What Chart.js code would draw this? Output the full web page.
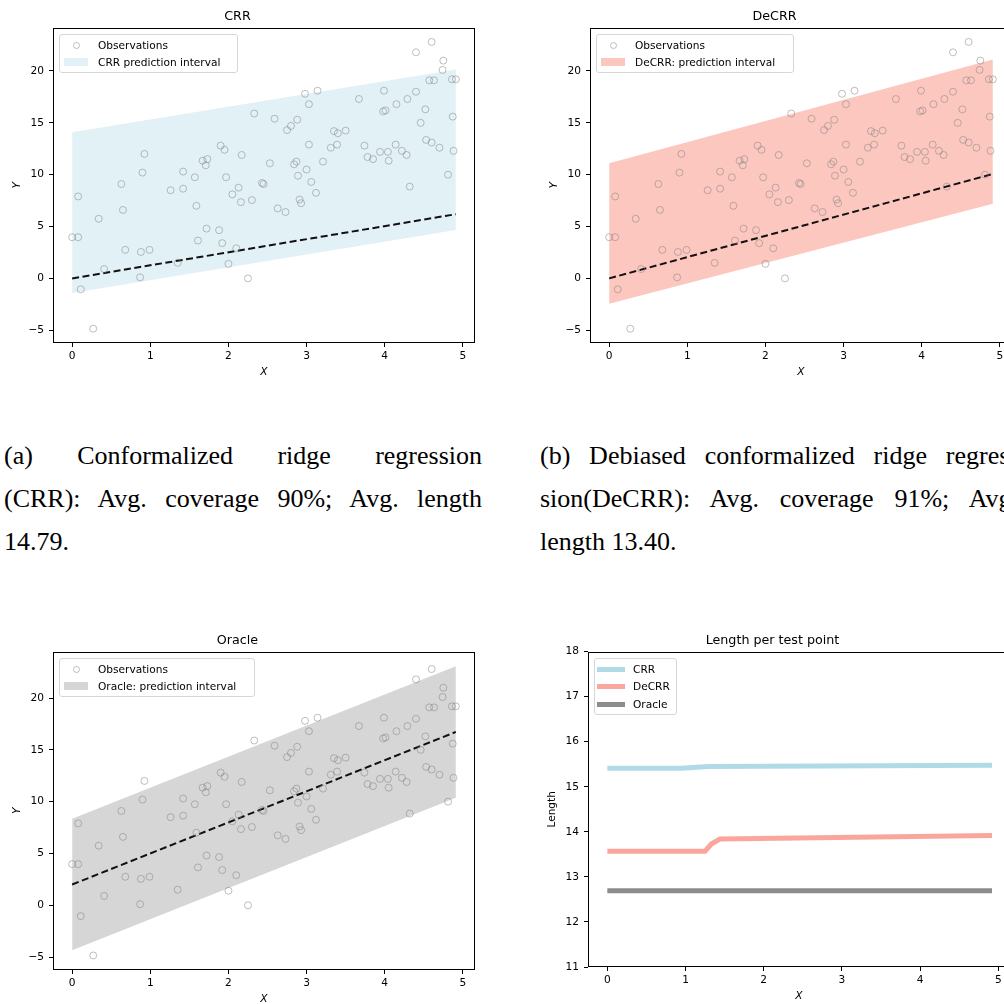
<!DOCTYPE html>
<html>
<head>
<meta charset="utf-8">
<script src="https://cdn.jsdelivr.net/npm/chart.js@4.4.1/dist/chart.umd.min.js"></script>
<style>
  html, body { margin: 0; padding: 0; background: #fff; }
  body { width: 1004px; height: 1004px; position: relative; overflow: hidden; font-family: 'DejaVu Sans', sans-serif; }
  canvas { position: absolute; }
  .legend { position: absolute; background: rgba(255,255,255,0.8); border: 1px solid #d6d6d6; border-radius: 3px; box-sizing: border-box; }
  .legend .lbl { position: absolute; font-size: 10.6px; line-height: 12px; color: #000; white-space: nowrap; }
  .legend .mk { position: absolute; box-sizing: border-box; }
  .caption { position: absolute; width: 478px; font-family: 'Liberation Serif', serif; font-size: 26px; line-height: 43px; color: #000; }
  .caption .j { text-align: justify; text-align-last: justify; white-space: normal; }
  .caption .l { text-align: left; }
</style>
</head>
<body>
<canvas id="crr" width="480" height="390" style="left:0px;top:0px"></canvas>
<canvas id="decrr" width="480" height="390" style="left:537px;top:0px"></canvas>
<canvas id="oracle" width="480" height="393" style="left:0px;top:624px"></canvas>
<canvas id="length" width="480" height="390" style="left:535px;top:624px"></canvas>

<div class="caption" style="left:4px;top:434px">
  <div class="j">(a) Conformalized ridge regression</div>
  <div class="j">(CRR): Avg. coverage 90%; Avg. length</div>
  <div class="l">14.79.</div>
</div>
<div class="caption" style="left:540px;top:434px">
  <div class="j">(b) Debiased conformalized ridge regres-</div>
  <div class="j">sion(DeCRR): Avg. coverage 91%; Avg.</div>
  <div class="l">length 13.40.</div>
</div>

<script>
// observations (same sample in the three scatter panels)
const obsX = [0.00, 0.077, 0.077, 0.11, 0.27, 0.34, 0.41, 0.63, 0.65, 0.68,
  0.87, 0.88, 0.90, 0.925, 0.99, 1.26, 1.35, 1.42, 1.42, 1.57,
  1.59, 1.61, 1.67, 1.71, 1.72, 1.73, 1.88, 1.90, 1.92, 1.95,
  1.97, 2.00, 2.05, 2.10, 2.13, 2.16, 2.17, 2.25, 2.30, 2.33,
  2.43, 2.45, 2.53, 2.59, 2.63, 2.73, 2.75, 2.80, 2.84, 2.87,
  2.88, 2.89, 2.91, 2.93, 2.98, 3.00, 3.03, 3.03, 3.06, 3.12,
  3.14, 3.21, 3.31, 3.35, 3.39, 3.40, 3.50, 3.67, 3.74, 3.78,
  3.85, 3.94, 3.98, 3.99, 4.01, 4.04, 4.05, 4.14, 4.15, 4.22,
  4.28, 4.29, 4.32, 4.40, 4.40, 4.46, 4.52, 4.53, 4.57, 4.60,
  4.60, 4.63, 4.70, 4.74, 4.75, 4.81, 4.86, 4.87, 4.88, 4.91];
const obsY = [3.97, 3.97, 7.9, -1.05, -4.85, 5.75, 0.9, 9.1, 6.6, 2.75,
  0.1, 2.55, 10.2, 12.0, 2.75, 8.5, 1.5, 8.65, 10.3, 9.75,
  7.0, 3.65, 11.35, 10.9, 4.8, 11.5, 4.65, 12.8, 3.4, 12.4,
  9.75, 1.4, 8.1, 2.9, 8.75, 7.35, 11.9, 0.0, 7.55, 15.9,
  9.2, 9.1, 11.1, 15.4, 6.75, 6.4, 14.3, 14.7, 11.0, 11.26,
  15.3, 9.9, 7.6, 7.25, 17.8, 10.5, 16.8, 12.9, 9.3, 8.25,
  18.1, 11.26, 12.6, 14.2, 12.9, 14.0, 14.25, 17.3, 12.8, 11.7,
  11.5, 12.2, 16.1, 18.1, 16.2, 12.2, 11.35, 12.9, 16.8, 12.3,
  11.9, 17.3, 8.85, 21.8, 18.0, 15.0, 16.3, 13.35, 19.1, 22.8,
  13.1, 19.1, 12.6, 20.1, 21.0, 10.0, 19.2, 15.6, 12.3, 19.2];

// interval edges and fitted lines at the ends of the test grid
const bandX = [0, 4.91];
const crrLower = [-1.4, 4.67];
const crrUpper = [14.1, 20.15];
const crrFit = [0, 6.19];
const decrrLower = [-2.45, 7.2];
const decrrUpper = [11.1, 21.1];
const decrrFit = [0, 10.07];
const oracleLower = [-4.35, 10.38];
const oracleUpper = [8.35, 23.08];
const oracleFit = [2.0, 16.73];

// length per test point
const crrLenX = [0, 0.95, 1.3, 4.92];
const crrLen = [15.41, 15.41, 15.45, 15.48];
const decrrLenX = [0, 1.25, 1.33, 1.44, 4.92];
const decrrLen = [13.57, 13.57, 13.73, 13.84, 13.92];
const oracleLenX = [0, 4.92];
const oracleLen = [12.69, 12.69];

const FONT = "'DejaVu Sans', sans-serif";
const pts = (xs, ys) => xs.map((x, i) => ({x: x, y: ys[i]}));

const frame = {
  id: 'frame',
  afterDraw(chart) {
    const {ctx, chartArea: a} = chart;
    ctx.save();
    ctx.strokeStyle = '#000';
    ctx.lineWidth = 1;
    ctx.strokeRect(Math.round(a.left) + 0.5, Math.round(a.top) + 0.5,
      Math.round(a.right - a.left) - 1, Math.round(a.bottom - a.top) - 1);
    ctx.restore();
  }
};

function xAxis(min, max) {
  return {
    type: 'linear', min: min, max: max,
    ticks: { stepSize: 1, includeBounds: false, color: '#000', font: {family: FONT, size: 10.6}, padding: 3, maxRotation: 0 },
    grid: { drawOnChartArea: false, drawTicks: true, tickLength: 4, color: '#000' },
    border: { display: false },
    title: { display: true, text: 'X', color: '#000', font: {family: FONT, size: 10.6, style: 'italic'}, padding: {top: 0, bottom: 11} },
    afterFit(s) { s.height = 47; }
  };
}

function yAxis(min, max, step, label, italic) {
  return {
    type: 'linear', min: min, max: max,
    ticks: { stepSize: step, includeBounds: false, color: '#000', font: {family: FONT, size: 10.6}, padding: 5,
      callback: v => String(v).replace('-', '\u2212') },
    grid: { drawOnChartArea: false, drawTicks: true, tickLength: 4, color: '#000' },
    border: { display: false },
    title: { display: true, text: label, color: '#000', font: {family: FONT, size: 10.6, style: italic ? 'italic' : 'normal'}, padding: {top: 11, bottom: 0} },
    afterFit(s) { s.width = 53; }
  };
}

function commonOptions(title, xs, ys) {
  return {
    responsive: false,
    animation: false,
    layout: { padding: {left: 0, right: 5, top: 0, bottom: 0} },
    plugins: {
      legend: { display: false },
      tooltip: { enabled: false },
      title: { display: true, text: title, color: '#000', font: {family: FONT, size: 12.7, weight: 'normal'}, padding: {top: 9.4, bottom: 3} }
    },
    scales: { x: xs, y: ys }
  };
}

function intervalPanel(id, title, lower, upper, fit, bandColor, yMin, yMax) {
  new Chart(document.getElementById(id), {
    type: 'scatter',
    data: {
      datasets: [
        { label: 'Observations', data: pts(obsX, obsY), pointStyle: 'circle', pointRadius: 3.5,
          borderColor: 'rgba(128,128,128,0.5)', backgroundColor: 'rgba(0,0,0,0)', borderWidth: 1 },
        { type: 'line', data: pts(bandX, fit), borderColor: '#111', borderWidth: 2, borderDash: [7, 3.5],
          pointRadius: 0, fill: false },
        { type: 'line', data: pts(bandX, upper), borderWidth: 0, pointRadius: 0, backgroundColor: bandColor, fill: '+1' },
        { type: 'line', data: pts(bandX, lower), borderWidth: 0, pointRadius: 0, fill: false }
      ]
    },
    options: commonOptions(title, xAxis(-0.245, 5.155), yAxis(yMin, yMax, 5, 'Y', true)),
    plugins: [frame]
  });
}

intervalPanel('crr', 'CRR', crrLower, crrUpper, crrFit, 'rgb(226,241,246)', -6.23, 24.18);
intervalPanel('decrr', 'DeCRR', decrrLower, decrrUpper, decrrFit, 'rgb(252,199,191)', -6.23, 24.18);
intervalPanel('oracle', 'Oracle', oracleLower, oracleUpper, oracleFit, 'rgb(214,214,214)', -6.25, 24.48);

new Chart(document.getElementById('length'), {
  type: 'scatter',
  data: {
    datasets: [
      { type: 'line', label: 'CRR', data: pts(crrLenX, crrLen), borderColor: 'rgba(173,216,230,0.95)', borderWidth: 5, pointRadius: 0, fill: false },
      { type: 'line', label: 'DeCRR', data: pts(decrrLenX, decrrLen), borderColor: 'rgba(250,128,114,0.7)', borderWidth: 5, pointRadius: 0, fill: false },
      { type: 'line', label: 'Oracle', data: pts(oracleLenX, oracleLen), borderColor: 'rgba(128,128,128,0.9)', borderWidth: 5, pointRadius: 0, fill: false }
    ]
  },
  options: commonOptions('Length per test point', xAxis(-0.247, 5.15), yAxis(11, 18, 1, 'Length', false)),
  plugins: [frame]
});

// matplotlib-style legends laid over the plot areas
function legend(left, top, width, height, entries) {
  const box = document.createElement('div');
  box.className = 'legend';
  Object.assign(box.style, {left: left + 'px', top: top + 'px', width: width + 'px', height: height + 'px'});
  entries.forEach((e, i) => {
    const cy = e.cy;
    const mk = document.createElement('div');
    mk.className = 'mk';
    if (e.kind === 'circle') {
      Object.assign(mk.style, {left: '13px', top: (cy - 3.5) + 'px', width: '7px', height: '7px',
        border: '1px solid rgba(128,128,128,0.5)', borderRadius: '50%'});
    } else if (e.kind === 'patch') {
      Object.assign(mk.style, {left: '4px', top: (cy - 4) + 'px', width: '24px', height: '8px', background: e.color});
    } else {
      Object.assign(mk.style, {left: '2px', top: (cy - 2.5) + 'px', width: '28px', height: '5px', background: e.color});
    }
    box.appendChild(mk);
    const t = document.createElement('div');
    t.className = 'lbl';
    t.textContent = e.text;
    Object.assign(t.style, {left: '38px', top: (cy - 6.5) + 'px'});
    box.appendChild(t);
  });
  document.body.appendChild(box);
}

legend(59, 34, 179, 39, [
  {kind: 'circle', text: 'Observations', cy: 10},
  {kind: 'patch', text: 'CRR prediction interval', color: 'rgb(226,241,246)', cy: 27}
]);
legend(596, 34, 198, 39, [
  {kind: 'circle', text: 'Observations', cy: 10},
  {kind: 'patch', text: 'DeCRR: prediction interval', color: 'rgb(252,199,191)', cy: 27}
]);
legend(59, 658, 196, 39, [
  {kind: 'circle', text: 'Observations', cy: 10},
  {kind: 'patch', text: 'Oracle: prediction interval', color: 'rgb(214,214,214)', cy: 27}
]);
legend(594, 658, 83, 57, [
  {kind: 'line', text: 'CRR', color: 'rgba(173,216,230,0.95)', cy: 10},
  {kind: 'line', text: 'DeCRR', color: 'rgba(250,128,114,0.7)', cy: 27.5},
  {kind: 'line', text: 'Oracle', color: 'rgba(128,128,128,0.9)', cy: 45}
]);
</script>
</body>
</html>
